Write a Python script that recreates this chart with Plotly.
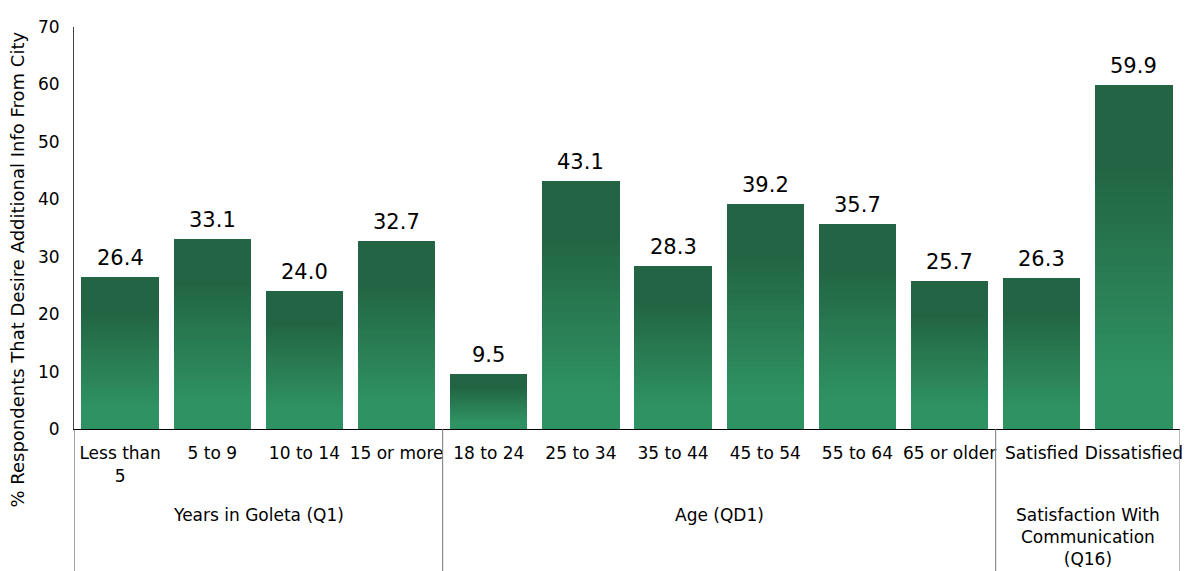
import plotly.graph_objects as go

categories = ["Less than<br>5", "5 to 9", "10 to 14", "15 or more",
              "18 to 24", "25 to 34", "35 to 44", "45 to 54", "55 to 64", "65 or older",
              "Satisfied", "Dissatisfied"]
values = [26.4, 33.1, 24.0, 32.7, 9.5, 43.1, 28.3, 39.2, 35.7, 25.7, 26.3, 59.9]
groups = ["Years in Goleta (Q1)", "Age (QD1)", "Satisfaction With<br>Communication<br>(Q16)"]
group_sizes = [4, 6, 2]

FONT = "DejaVu Sans"
dark = (0x22, 0x64, 0x43)
light = (0x2f, 0x92, 0x62)
N = 40

def shade(f):
    # f = fraction from top of bar
    t = min(max((f - 0.22) / 0.63, 0), 1)
    c = [round(dark[i] + (light[i] - dark[i]) * t) for i in range(3)]
    return "rgb(%d,%d,%d)" % tuple(c)

xs = list(range(len(values)))
fig = go.Figure()
for k in range(N):
    f = 1 - (k + 0.5) / N
    fig.add_trace(go.Bar(x=xs, y=[v / N for v in values], width=0.84,
                         marker=dict(color=shade(f), line=dict(width=0)),
                         showlegend=False, hoverinfo="skip"))

for x, v in zip(xs, values):
    fig.add_annotation(x=x, y=v, text="%.1f" % v, showarrow=False, yanchor="bottom",
                       yshift=5, font=dict(family=FONT, size=21, color="black"))

# group labels and dividers
start = 0
bounds = [-0.5]
for g, n in zip(groups, group_sizes):
    mid = start + (n - 1) / 2
    fig.add_annotation(x=mid, y=-0.185, yref="paper", text=g, showarrow=False,
                       yanchor="top", font=dict(family=FONT, size=17, color="black"))
    start += n
    bounds.append(start - 0.5)

for b in bounds:
    fig.add_shape(type="line", x0=b, x1=b, y0=0, y1=-0.4, yref="paper",
                  line=dict(color="#444444" if b == -0.5 else "#777777", width=1))

fig.add_annotation(x=-0.0514, xref="paper", y=0.397, yref="paper", textangle=-90,
                   xanchor="center", yanchor="middle",
                   text="% Respondents That Desire Additional Info From City",
                   showarrow=False, font=dict(family=FONT, size=18, color="black"))

fig.update_layout(
    barmode="stack", bargap=0.16,
    width=1184, height=563,
    margin=dict(l=66, r=9, t=15, b=142),
    plot_bgcolor="white", paper_bgcolor="white",
    font=dict(family=FONT, size=17, color="black"),
)
fig.update_xaxes(range=[-0.5, 11.5], tickvals=xs, ticktext=categories, ticks="",
                 showline=True, linecolor="black", linewidth=1, showgrid=False,
                 zeroline=False, ticklabelstandoff=9,
                 tickfont=dict(family=FONT, size=17, color="black"))
fig.update_yaxes(range=[0, 70], dtick=10, showline=True, linecolor="#444444", linewidth=1,
                 showgrid=False, zeroline=False, ticks="", ticklabelstandoff=10,
                 tickfont=dict(family=FONT, size=17, color="black"))

fig.write_html("out.html")
